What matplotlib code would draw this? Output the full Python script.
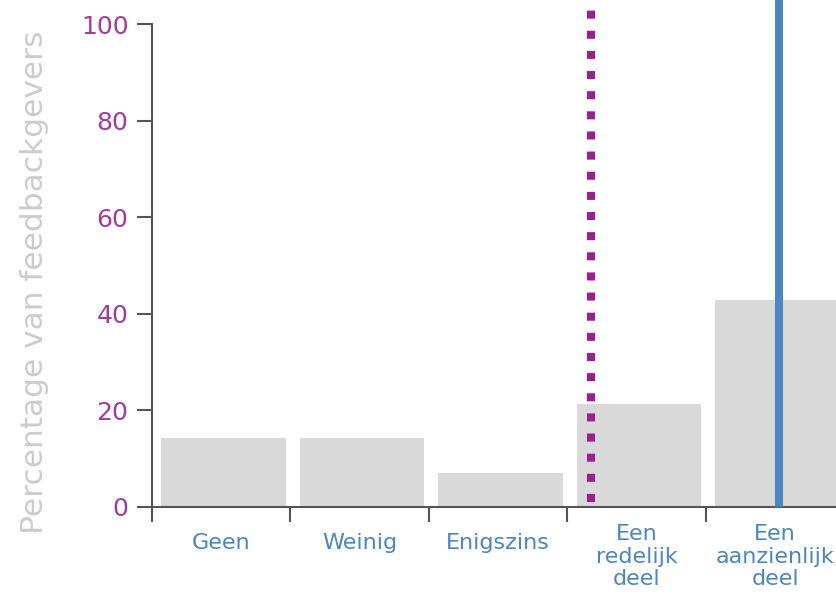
import matplotlib
matplotlib.use("Agg")
import matplotlib.pyplot as plt
import numpy as np

categories = ["Geen", "Weinig", "Enigszins", "Een\nredelijk\ndeel", "Een\naanzienlijk\ndeel"]
percentages = [14.3, 14.3, 7.1, 21.4, 42.9]
mean_score = 2.67      # dotted purple line (category index)
self_score = 4.03      # solid blue line (category index)
yticks = [0, 20, 40, 60, 80, 100]
ylabel = "Percentage van feedbackgevers"

W, H = 836, 594
fig = plt.figure(figsize=(W / 100, H / 100), dpi=100)
ax = fig.add_axes([152 / W, (H - 507) / H, (W - 152) / W, 507 / H])

x = np.arange(len(categories))
ax.bar(x + 0.018, percentages, width=0.9, color="#d9d9d9", zorder=1)

ax.axvline(mean_score, ymin=0.01, ymax=1, color="#9c1e93", lw=5.8,
           linestyle=(0, (1, 1.5)), dash_capstyle="butt", zorder=3)
ax.axvline(self_score, ymin=0, ymax=1, color="#4a86c0", lw=5.8, zorder=3)

ax.set_xlim(-0.5, 4.44)
ax.set_ylim(0, 105)

for s in ["top", "right"]:
    ax.spines[s].set_visible(False)
for s in ["left", "bottom"]:
    ax.spines[s].set_color("#555555")
    ax.spines[s].set_linewidth(1.5)
ax.spines["left"].set_bounds(0, 100)

ax.set_yticks(yticks)
ax.set_yticklabels([str(t) for t in yticks])
ax.tick_params(axis="y", length=11, width=1.5, color="#555555",
               labelcolor="#a43b9f", labelsize=18, pad=6)

ax.set_xticks(np.arange(-0.5, len(categories) - 0.5, 1.0))
ax.set_xticklabels([])
ax.tick_params(axis="x", which="major", length=11, width=1.5, color="#555555")

# category labels below the axis
for i, cat in enumerate(categories):
    multi = "\n" in cat
    ax.annotate(cat, xy=(i, 0), xycoords=("data", "axes fraction"),
                xytext=(0, -12.5 if multi else -18.5), textcoords="offset points",
                ha="center", va="top", fontsize=16, color="#4a86c0",
                linespacing=1.15, annotation_clip=False)

ax.set_ylabel(ylabel, color="#cccccc", fontsize=22.5)
ax.yaxis.set_label_coords(-0.15, 0.444)

fig.savefig("out.png", dpi=100)
